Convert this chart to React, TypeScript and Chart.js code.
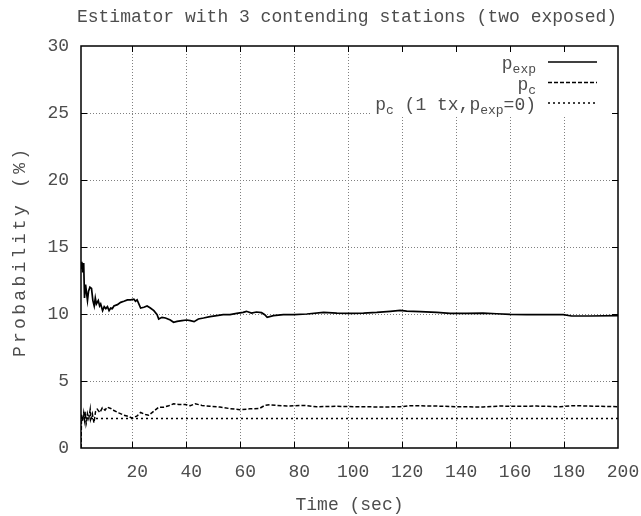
import React, { useEffect, useRef } from "react";
import { Chart, registerables } from "chart.js";

Chart.register(...registerables);

const chartTitle = "Estimator with 3 contending stations (two exposed)";
const xAxisTitle = "Time (sec)";
const yAxisTitle = "Probability (%)";

const xTickValues = [20, 40, 60, 80, 100, 120, 140, 160, 180, 200];
const yTickValues = [0, 5, 10, 15, 20, 25, 30];

const pExpTime = [
  1, 1.3, 1.6, 2.0, 2.3, 2.7, 3.1, 3.4, 3.8, 4.3, 4.9, 5.4, 5.9, 6.3, 6.7, 7.4, 7.9, 8.3, 9.0, 9.6,
  10.2, 10.8, 11.4, 12.0, 12.6, 13.2, 14.5, 15.7, 16.9, 18.2, 19.4, 20.6, 21.2, 21.8, 23.1, 24.3,
  25.5, 26.7, 28.0, 29.2, 29.8, 31.0, 32.3, 34.1, 35.3, 36.6, 38.4, 40.2, 41.5, 42.9, 44.5, 46.4,
  48.8, 51.3, 53.7, 56.2, 58.7, 61.1, 62.3, 64.2, 66.0, 67.9, 69.1, 70.0, 72.3, 76, 80, 84.7, 90.9,
  95.8, 100.7, 105.7, 110.6, 115.6, 119.3, 121.7, 126.7, 132.8, 137.8, 144, 150, 155, 160, 166.2,
  172.3, 179.7, 182.8, 189.6, 200,
];
const pExpValue = [
  13.4, 13.9, 13.1, 13.8, 11.2, 12.2, 11.5, 11.0, 11.7, 12.0, 11.9, 11.0, 10.6, 11.2, 10.75, 11.0,
  10.6, 10.75, 10.25, 10.55, 10.4, 10.55, 10.25, 10.45, 10.4, 10.6, 10.7, 10.87, 10.95, 11.05, 11.05,
  11.1, 10.95, 11.05, 10.45, 10.5, 10.6, 10.45, 10.25, 9.95, 9.63, 9.75, 9.7, 9.55, 9.38, 9.45, 9.5,
  9.55, 9.5, 9.43, 9.63, 9.7, 9.8, 9.88, 9.95, 9.95, 10.05, 10.12, 10.2, 10.07, 10.15, 10.1, 9.95,
  9.75, 9.88, 9.95, 9.95, 10.0, 10.12, 10.07, 10.05, 10.07, 10.12, 10.2, 10.27, 10.22, 10.17, 10.12,
  10.05, 10.05, 10.07, 10.02, 9.97, 9.95, 9.95, 9.95, 9.85, 9.85, 9.88,
];

const pcTime = [
  1, 1.2, 1.6, 2.0, 2.3, 2.6, 2.9, 3.1, 3.4, 3.9, 4.4, 4.6, 5.2, 5.8, 6.4, 7.0, 8.0, 8.9, 9.9, 10.7,
  12.0, 13.2, 15.0, 16.9, 18.7, 20, 21.8, 23.1, 24.9, 26.1, 28.0, 29.8, 31.7, 33.5, 35.3, 37.2, 39.6,
  41.5, 43.3, 45.8, 48.8, 52.5, 56.2, 59.9, 63.6, 67.2, 69.1, 70.9, 73.6, 77.3, 83.5, 88.4, 95.8,
  103.2, 113.1, 119.3, 123, 132.8, 140.2, 150, 156.3, 162.5, 169.9, 178.5, 183.5, 193.3, 200,
];
const pcValue = [
  0, 2.5, 2.0, 2.6, 2.1, 2.7, 1.8, 1.97, 2.56, 2.2, 2.86, 2.15, 2.56, 1.88, 2.73, 2.9, 2.65, 3.0,
  2.82, 3.05, 2.95, 2.8, 2.62, 2.45, 2.35, 2.22, 2.4, 2.65, 2.5, 2.44, 2.75, 3.05, 3.05, 3.15, 3.3,
  3.25, 3.25, 3.15, 3.3, 3.18, 3.11, 3.06, 2.94, 2.86, 2.92, 2.96, 3.18, 3.23, 3.18, 3.13, 3.18, 3.08,
  3.11, 3.08, 3.06, 3.08, 3.16, 3.13, 3.08, 3.06, 3.13, 3.11, 3.13, 3.08, 3.16, 3.11, 3.08,
];

const pc1txTime = [1, 200];
const pc1txValue = [2.2, 2.2];

// legend labels: [text, isSubscript]
const legendLabels: [string, boolean][][] = [
  [["p", false], ["exp", true]],
  [["p", false], ["c", true]],
  [["p", false], ["c", true], [" (1 tx,", false], ["p", false], ["exp", true], ["=0)", false]],
];

const FONT = "'Liberation Mono', 'DejaVu Sans Mono', monospace";
const TEXT = "#4d4d4d";

const toPoints = (xs: number[], ys: number[]) => xs.map((x, i) => ({ x, y: ys[i] }));

const datasetStyles = [
  { borderColor: "#000", borderWidth: 1.7, borderDash: [] as number[] },
  { borderColor: "#000", borderWidth: 1.5, borderDash: [4, 2] },
  { borderColor: "#000", borderWidth: 1.4, borderDash: [2, 3] },
];

const decorPlugin = {
  id: "gnuplotDecor",
  beforeDatasetsDraw(chart: any) {
    const { ctx, chartArea: a, scales } = chart;
    const xs = scales.x;
    const ys = scales.y;
    ctx.save();
    ctx.strokeStyle = "#808080";
    ctx.lineWidth = 1;
    ctx.setLineDash([1, 2]);
    for (const v of xTickValues) {
      if (v <= xs.min || v >= xs.max) continue;
      const px = Math.round(xs.getPixelForValue(v)) + 0.5;
      ctx.beginPath();
      ctx.moveTo(px, a.bottom);
      ctx.lineTo(px, a.top);
      ctx.stroke();
    }
    for (const v of yTickValues) {
      if (v <= ys.min || v >= ys.max) continue;
      const py = Math.round(ys.getPixelForValue(v)) + 0.5;
      ctx.beginPath();
      ctx.moveTo(a.left, py);
      ctx.lineTo(a.right, py);
      ctx.stroke();
    }
    ctx.restore();
  },
  afterDatasetsDraw(chart: any) {
    const { ctx, chartArea: a, scales } = chart;
    const xs = scales.x;
    const ys = scales.y;
    ctx.save();

    // legend
    const mainFont = `18px ${FONT}`;
    const subFont = `13px ${FONT}`;
    const textRight = 536;
    const sampleL = 548;
    const sampleR = 597;
    const rowY = [62, 82.5, 103];
    const widths = legendLabels.map((segs) =>
      segs.reduce((w, [t, sub]) => {
        ctx.font = sub ? subFont : mainFont;
        return w + ctx.measureText(t).width;
      }, 0)
    );
    const boxLeft = Math.min(390, textRight - Math.max(...widths) - 4);
    ctx.fillStyle = "#fff";
    ctx.fillRect(boxLeft, a.top + 1, 610 - boxLeft, 116 - a.top - 1);

    legendLabels.forEach((segs, i) => {
      let x = textRight - widths[i];
      const base = rowY[i] + 7;
      ctx.fillStyle = TEXT;
      ctx.textAlign = "left";
      ctx.textBaseline = "alphabetic";
      for (const [t, sub] of segs) {
        ctx.font = sub ? subFont : mainFont;
        ctx.fillText(t, x, sub ? base + 4 : base);
        x += ctx.measureText(t).width;
      }
      const st = datasetStyles[i];
      ctx.strokeStyle = st.borderColor;
      ctx.lineWidth = st.borderWidth;
      ctx.setLineDash(st.borderDash);
      ctx.beginPath();
      ctx.moveTo(sampleL, rowY[i]);
      ctx.lineTo(sampleR, rowY[i]);
      ctx.stroke();
    });
    ctx.setLineDash([]);

    // frame
    ctx.strokeStyle = "#000";
    ctx.lineWidth = 1.5;
    ctx.strokeRect(a.left, a.top, a.right - a.left, a.bottom - a.top);

    // inward ticks (mirrored)
    ctx.lineWidth = 1;
    const tl = 6;
    for (const v of xTickValues) {
      if (v <= xs.min || v >= xs.max) continue;
      const px = Math.round(xs.getPixelForValue(v)) + 0.5;
      ctx.beginPath();
      ctx.moveTo(px, a.bottom);
      ctx.lineTo(px, a.bottom - tl);
      ctx.moveTo(px, a.top);
      ctx.lineTo(px, a.top + tl);
      ctx.stroke();
    }
    for (const v of yTickValues) {
      if (v <= ys.min || v >= ys.max) continue;
      const py = Math.round(ys.getPixelForValue(v)) + 0.5;
      ctx.beginPath();
      ctx.moveTo(a.left, py);
      ctx.lineTo(a.left + tl, py);
      ctx.moveTo(a.right, py);
      ctx.lineTo(a.right - tl, py);
      ctx.stroke();
    }

    // chart title
    ctx.fillStyle = TEXT;
    ctx.font = mainFont;
    ctx.textAlign = "center";
    ctx.textBaseline = "alphabetic";
    ctx.fillText(chartTitle, 347, 22);

    // y axis title (rotated, widened spacing)
    (ctx as any).letterSpacing = "3.3px";
    const w = ctx.measureText(yAxisTitle).width - 3.3;
    ctx.translate(25, 253);
    ctx.rotate(-Math.PI / 2);
    ctx.textAlign = "left";
    ctx.fillText(yAxisTitle, -w / 2, 0);
    ctx.restore();
  },
};

export default function App() {
  const canvasRef = useRef<HTMLCanvasElement | null>(null);

  useEffect(() => {
    if (!canvasRef.current) return;
    const font = { family: FONT, size: 18 };
    const chart = new Chart(canvasRef.current, {
      type: "line",
      data: {
        datasets: [
          { label: "p_exp", data: toPoints(pExpTime, pExpValue), ...datasetStyles[0] },
          { label: "p_c", data: toPoints(pcTime, pcValue), ...datasetStyles[1] },
          { label: "p_c (1 tx,p_exp=0)", data: toPoints(pc1txTime, pc1txValue), ...datasetStyles[2] },
        ].map((d) => ({ ...d, pointRadius: 0, tension: 0, fill: false })),
      },
      options: {
        animation: false,
        responsive: true,
        maintainAspectRatio: false,
        events: [],
        layout: { padding: { top: 46, right: 23, left: 0, bottom: 0 } },
        plugins: { legend: { display: false }, tooltip: { enabled: false }, title: { display: false } },
        scales: {
          x: {
            type: "linear",
            min: 1,
            max: 200,
            afterBuildTicks: (s: any) => {
              s.ticks = xTickValues.map((v) => ({ value: v }));
            },
            afterFit: (s: any) => {
              s.height = 68;
              s.paddingLeft = 0;
              s.paddingRight = 0;
            },
            grid: { display: false, drawTicks: false },
            border: { display: false },
            ticks: {
              font,
              color: TEXT,
              padding: 13,
              labelOffset: 5,
              autoSkip: false,
              maxRotation: 0,
              callback: (v: any) => String(v),
            },
            title: { display: true, text: xAxisTitle, font, color: TEXT, padding: { top: 0, bottom: 0 } },
          },
          y: {
            type: "linear",
            min: 0,
            max: 30,
            afterBuildTicks: (s: any) => {
              s.ticks = yTickValues.map((v) => ({ value: v }));
            },
            afterFit: (s: any) => {
              s.width = 81;
              s.paddingTop = 0;
              s.paddingBottom = 0;
            },
            grid: { display: false, drawTicks: false },
            border: { display: false },
            ticks: { font, color: TEXT, padding: 12, labelOffset: 0.5, callback: (v: any) => String(v) },
          },
        },
      },
      plugins: [decorPlugin],
    } as any);
    return () => chart.destroy();
  }, []);

  return (
    <div style={{ position: "fixed", left: 0, top: 0, width: 641, height: 516, background: "#fff" }}>
      <canvas ref={canvasRef} />
    </div>
  );
}
